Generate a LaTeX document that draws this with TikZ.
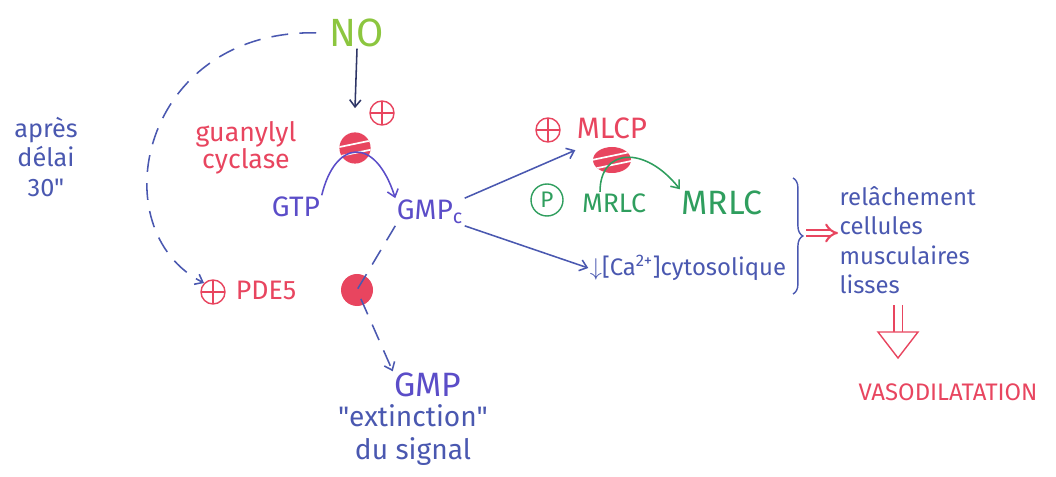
\documentclass[tikz,border=0pt]{standalone}
\usepackage{fontspec}
\setmainfont{Fira Sans}[Ligatures=TeXOff]
\usetikzlibrary{positioning, arrows.meta, shapes.geometric, decorations.pathreplacing}
\definecolor{pinkred}{HTML}{E8455F}
\definecolor{inkblue}{HTML}{4A58B0}
\definecolor{inkpurple}{HTML}{5B4DC8}
\definecolor{inkgreen}{HTML}{2F9E5E}
\definecolor{nogreen}{HTML}{8CC63F}
\definecolor{inkdark}{HTML}{2E3566}
\newcommand{\fs}[1]{\fontsize{#1}{#1}\selectfont}

\begin{document}
\begin{tikzpicture}[x=0.025cm, y=-0.025cm,
  every node/.style={inner sep=1pt},
  arr/.style={line width=1.1pt, -{Straight Barb[length=5pt, width=8pt]}},
  plussign/.style={circle, draw=pinkred, line width=1pt, minimum size=0.6cm,
    path picture={\draw[pinkred, line width=1pt]
      (path picture bounding box.north) -- (path picture bounding box.south)
      (path picture bounding box.west) -- (path picture bounding box.east);}},
  enzyme/.style={circle, fill=pinkred, minimum size=0.78cm,
    path picture={\draw[white, line width=1.2pt]
      ([shift={(-6mm,-2.5mm)}]path picture bounding box.center) -- ++(12mm,2.5mm)
      ([shift={(-6mm,-0.2mm)}]path picture bounding box.center) -- ++(12mm,2.5mm);}},
  redtxt/.style={text=pinkred},
  bluetxt/.style={text=inkblue},
  purptxt/.style={text=inkpurple},
  greentxt/.style={text=inkgreen}
]
\useasboundingbox (0,0) rectangle (1056,477);

% top: NO and guanylyl cyclase
\node[text=nogreen, font=\fs{28}] (no) at (357,33) {NO};
\node[plussign] (act1) at (382,113) {};
\node[enzyme] (gc) at (355,148) {};
\node[redtxt, font=\fs{19}, align=center] (gclab) at (246,148) {guanylyl\\cyclase};
\node[purptxt, font=\fs{20}] (gtp) at (296,207) {GTP};
\node[purptxt, font=\fs{20}] (gmpc) at (430,212) {GMP\textsubscript{c}};

% MLCP / MRLC
\node[plussign] (act2) at (548,130) {};
\node[redtxt, font=\fs{21}] (mlcp) at (612,128) {MLCP};
\node[enzyme, ellipse, minimum width=0.95cm, minimum height=0.65cm] (mlcpenz) at (612,160) {};
\node[circle, draw=inkgreen, line width=1pt, minimum size=0.8cm, greentxt, font=\fs{16}] (phos) at (547,200) {P};
\node[greentxt, font=\fs{19}] (mrlcp) at (614,203) {MRLC};
\node[greentxt, font=\fs{24}] (mrlc) at (722,203) {MRLC};
\node[bluetxt, font=\fs{17}] (ca) at (688,268) {$\downarrow$[Ca\textsuperscript{2+}]cytosolique};

% relaxation
\coordinate (btop) at (793,178);
\coordinate (bbot) at (793,294);
\coordinate (btip) at (806,233);
\node[bluetxt, font=\fontsize{17}{21}\selectfont, align=left, anchor=west] (relax) at (838,240) {relâchement\\cellules\\musculaires\\lisses};
\coordinate (dtop) at (898,305);
\coordinate (dhead) at (898,334);
\node[redtxt, font=\fs{17}] (vaso) at (948,392) {VASODILATATION};

% PDE5 and GMP
\node[plussign] (act3) at (213,292) {};
\node[redtxt, font=\fs{19}] (pde) at (266,290) {PDE5};
\node[circle, fill=pinkred, minimum size=0.8cm] (pdeenz) at (357,290) {};
\node[purptxt, font=\fs{24}] (gmp) at (428,385) {GMP};
\node[bluetxt, font=\fontsize{20}{23}\selectfont, align=center] (ext) at (413,435) {"extinction"\\du signal};
\node[bluetxt, font=\fontsize{18}{21}\selectfont, align=center] (delay) at (46,157) {après\\délai\\30"};

% connectors
\draw[arr, inkdark] (no.south) -- ([yshift=0.6cm]gc.north);
\draw[arr, inkpurple] (gtp.north east) .. controls (335,140) and (375,135) .. (gmpc.north west);
\draw[arr, inkblue] (gmpc.north east) -- ([yshift=-0.25cm]mlcp.south west);
\draw[arr, inkblue] (gmpc.south east) -- (ca.west);
\draw[arr, inkgreen] ([xshift=-0.35cm]mrlcp.north) .. controls (600,148) and (645,145) .. (mrlc.north west);
\draw[arr, inkblue, dash pattern=on 12pt off 8pt] (gmpc.south west) -- (pdeenz.center) -- (gmp.north west);
\draw[arr, inkblue, dash pattern=on 12pt off 8pt, shorten <=0.3cm] (no.west) .. controls (140,30) and (100,230) .. (act3.north west);
\draw[inkblue, line width=1pt, decorate, decoration={brace, amplitude=7pt}] (btop) -- (bbot);
\draw[pinkred, line width=1.5pt, double distance=3pt, -{Implies}] (btip) -- (relax.west |- btip);
\draw[pinkred, line width=1pt, double distance=5pt] (dtop) -- (dhead);
\draw[pinkred, line width=1pt, fill=white] (878,332) -- (918,332) -- (898,358) -- cycle;
\end{tikzpicture}
\end{document}
